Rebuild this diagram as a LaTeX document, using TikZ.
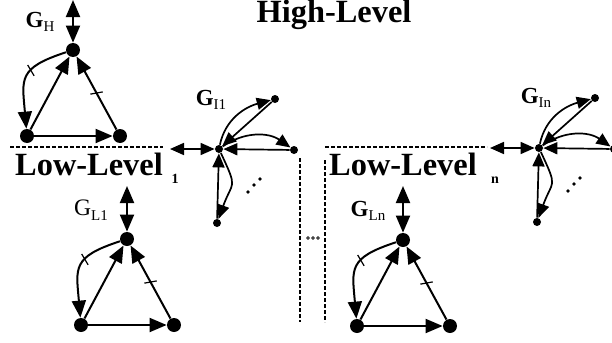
\documentclass[tikz,border=0pt]{standalone}
\usepackage{fontspec}
\setmainfont{Liberation Serif}
\usetikzlibrary{arrows.meta,decorations.markings}
\tikzset{
 dot/.style={circle,fill,inner sep=0pt,minimum size=7pt},
 sdot/.style={circle,fill,inner sep=0pt,minimum size=4pt},
 arr/.style={line width=1pt,-{Triangle[length=8.5pt,width=7pt]}},
 dbl/.style={line width=1pt,{Triangle[length=8.5pt,width=7pt]}-{Triangle[length=8.5pt,width=7pt]}},
 arr2/.style={line width=0.85pt,-{Triangle[length=7pt,width=6pt]}},
 dbl2/.style={line width=0.85pt,{Triangle[length=7pt,width=6pt]}-{Triangle[length=7pt,width=6pt]}},
 tickmark/.style={postaction={decorate},decoration={markings,mark=at position #1 with {\draw[line width=0.6pt,-] (-1pt,-3pt) -- (1pt,3pt);}}},
 tickmark/.default=0.5,
 dsh/.style={line width=0.8pt,dash pattern=on 2pt off 1pt},
 big/.style={font=\bfseries\fontsize{16.2}{18}\selectfont,inner sep=0pt,anchor=base},
 sub/.style={font=\bfseries\fontsize{7}{8}\selectfont,inner sep=0pt,anchor=base},
 lab/.style={inner sep=0pt}
}
\newcommand\gbold[1]{{\fontsize{11.5}{12}\selectfont\bfseries G}\raisebox{-2.2pt}{\fontsize{7.5}{8}\selectfont #1}}
\newcommand\greg[1]{{\fontsize{11.8}{12}\selectfont G}\raisebox{-2.2pt}{\fontsize{7.5}{8}\selectfont #1}}
\newcommand\trigraph[4]{%
 \begin{scope}[shift={(#2,#3)}]
 \node[dot] (#1t) at (0,0) {};
 \node[dot] (#1l) at (-46,-86) {};
 \node[dot] (#1r) at (47,-86) {};
 \coordinate (#1u) at (0,#4);
 \draw[dbl] (#1u) -- (#1t);
 \draw[arr] (#1l) -- (#1t);
 \draw[arr,tickmark] (#1r) -- (#1t);
 \draw[arr] (#1l) -- (#1r);
 \draw[arr,tickmark=0.4] (#1t) to[out=198,in=95,looseness=1.5] (#1l);
 \end{scope}}
\newcommand\igraph[3]{%
 \begin{scope}[shift={(#2,#3)}]
 \node[sdot] (#1c) at (0,0) {};
 \node[sdot] (#1u) at (56,50) {};
 \node[sdot] (#1r) at (75,-1) {};
 \node[sdot] (#1b) at (-2,-74) {};
 \coordinate (#1w) at (-49,0);
 \draw[dbl2] (#1w) -- (#1c);
 \draw[arr2] (#1c) to[out=78,in=195] (#1u);
 \draw[arr2] (#1u) -- (#1c);
 \draw[arr2] (#1c) to[out=35,in=145] (#1r);
 \draw[arr2] (#1r) -- (#1c);
 \draw[arr2] (#1b) -- (#1c);
 \draw[arr2] (#1c) to[out=-65,in=70,looseness=1.6] (#1b);
 \fill (29,-43) circle (1.8) (35,-36) circle (1.8) (41,-30) circle (1.8);
 \end{scope}}
\begin{document}
\begin{tikzpicture}[x=0.5pt,y=0.5pt]
\useasboundingbox (0,0) rectangle (612,-343);
\clip (0,0) rectangle (612,-343);

\trigraph{h}{73}{-50}{50}
\trigraph{a}{127}{-239}{53}
\trigraph{b}{403}{-240}{54}
\igraph{p}{219}{-149}
\igraph{q}{539}{-148}

\node[lab] (gh) at (40,-22) {\gbold{H}};
\node[lab] (gi1) at (211,-100) {\gbold{I1}};
\node[lab] (gin) at (536,-98) {\gbold{In}};
\node[lab] (gl1) at (91,-210) {\greg{L1}};
\node[lab] (gln) at (368,-211) {\gbold{Ln}};

\node[big] (hl) at (334,-22) {High-Level};
\node[big] (ll1) at (89,-175) {Low-Level};
\node[sub] (s1) at (175,-183) {1};
\node[big] (lln) at (403,-175) {Low-Level};
\node[sub] (sn) at (495,-183) {n};

\coordinate (d1a) at (10,-147); \coordinate (d1b) at (163,-147);
\coordinate (d2a) at (325,-147); \coordinate (d2b) at (487,-147);
\coordinate (v1a) at (300,-158); \coordinate (v1b) at (300,-322);
\coordinate (v2a) at (325,-160); \coordinate (v2b) at (325,-322);
\draw[dsh] (d1a) -- (d1b);
\draw[dsh] (d2a) -- (d2b);
\draw[dsh] (v1a) -- (v1b);
\draw[dsh] (v2a) -- (v2b);
\draw[line width=0.4pt] (308,-238) circle (1.4) (313,-238) circle (1.4) (318,-238) circle (1.4);
\end{tikzpicture}
\end{document}
